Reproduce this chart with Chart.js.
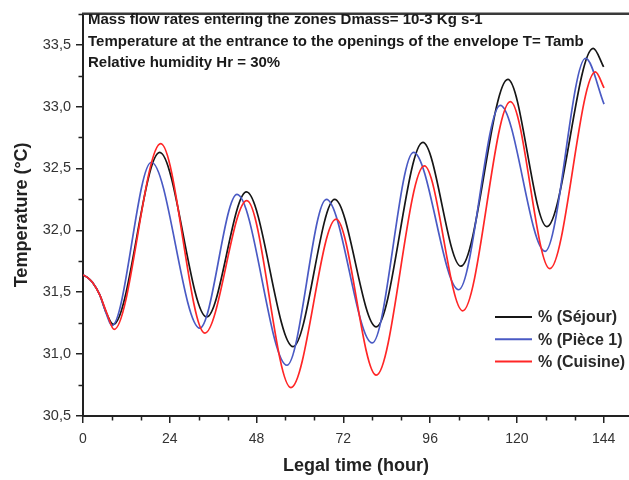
<!DOCTYPE html>
<html><head><meta charset="utf-8">
<script src="https://cdn.jsdelivr.net/npm/chart.js@4/dist/chart.umd.min.js"></script>
<style>html,body{margin:0;padding:0;background:#fff;} canvas{display:block;}</style>
</head><body>
<canvas id="c" width="629" height="480"></canvas>
<script>
// ---- Data ----
const seriesNames = ['% (Séjour)', '% (Pièce 1)', '% (Cuisine)'];

const sejourHours = [0, 1.2, 2.6, 4.6, 6.5, 8.4, 21.2, 34.2, 45.2, 58.1, 69.6, 81.1, 94.0, 104.5, 117.5, 128.3, 141.1, 144.0];
const sejourTemps = [31.64, 31.62, 31.58, 31.48, 31.33, 31.24, 32.63, 31.30, 32.31, 31.06, 32.25, 31.22, 32.71, 31.71, 33.22, 32.03, 33.47, 33.32];

const pieceHours = [0, 1.2, 2.6, 4.6, 6.4, 8.0, 18.9, 32.3, 42.6, 56.4, 67.3, 80.0, 91.4, 103.9, 115.4, 127.8, 139.0, 144.1];
const pieceTemps = [31.64, 31.62, 31.58, 31.48, 31.33, 31.23, 32.55, 31.21, 32.29, 30.91, 32.25, 31.09, 32.63, 31.52, 33.01, 31.83, 33.39, 33.02];

const cuisineHours = [0, 1.2, 2.6, 4.6, 6.6, 8.6, 21.5, 33.7, 45.3, 57.5, 70.0, 81.1, 94.4, 105.0, 118.2, 129.1, 141.7, 144.1];
const cuisineTemps = [31.64, 31.62, 31.58, 31.48, 31.33, 31.20, 32.70, 31.17, 32.24, 30.73, 32.09, 30.83, 32.52, 31.35, 33.04, 31.69, 33.28, 33.15];

const xMajorTicks = [0, 24, 48, 72, 96, 120, 144];
const xMinorTicks = [8, 16, 32, 40, 56, 64, 80, 88, 104, 112, 128, 136];
const yMajorTicks = [30.5, 31.0, 31.5, 32.0, 32.5, 33.0, 33.5];
const yMinorTicks = [30.75, 31.25, 31.75, 32.25, 32.75, 33.25, 33.75];

const noteLines = [
  'Mass flow rates entering the zones Dmass= 10-3 Kg s-1',
  'Temperature at the entrance to the openings of the envelope T= Tamb',
  'Relative humidity Hr = 30%'
];
const xTitle = 'Legal time (hour)';
const yTitle = 'Temperature (°C)';

// ---- Build chart ----
const toPts = (hs, ts) => hs.map((h, i) => ({x: h, y: ts[i]}));
const FONT = '"Liberation Sans", Arial, sans-serif';
const colors = ['#161616', '#4a5ac4', '#ff2626'];

const decor = {
  id: 'decor',
  afterDraw(chart) {
    const {ctx, chartArea: a, scales: {x, y}} = chart;
    ctx.save();
    // top frame line
    ctx.strokeStyle = '#3a3a3a';
    ctx.lineWidth = 2.5;
    ctx.beginPath();
    ctx.moveTo(a.left - 1, a.top);
    ctx.lineTo(chart.width, a.top);
    ctx.stroke();
    // minor ticks
    ctx.strokeStyle = '#222';
    ctx.lineWidth = 1.5;
    ctx.beginPath();
    xMinorTicks.forEach(v => {
      const px = Math.round(x.getPixelForValue(v)) + 0.5;
      ctx.moveTo(px, a.bottom); ctx.lineTo(px, a.bottom + 4.5);
    });
    yMinorTicks.forEach(v => {
      const py = Math.round(y.getPixelForValue(v)) + 0.5;
      ctx.moveTo(a.left, py); ctx.lineTo(a.left - 4.5, py);
    });
    ctx.stroke();
    // annotation text
    ctx.fillStyle = '#1a1a1a';
    ctx.font = 'bold 15px ' + FONT;
    ctx.textBaseline = 'middle';
    ctx.textAlign = 'left';
    noteLines.forEach((t, i) => ctx.fillText(t, a.left + 5, 20 + i * 21.5));
    // legend
    ctx.font = 'bold 16px ' + FONT;
    chart.data.datasets.forEach((ds, i) => {
      const ly = 317 + i * 22.3;
      ctx.strokeStyle = ds.borderColor;
      ctx.lineWidth = 2;
      ctx.beginPath();
      ctx.moveTo(495, ly); ctx.lineTo(532, ly);
      ctx.stroke();
      ctx.fillStyle = '#2a2a2a';
      ctx.fillText(ds.label, 538, ly + 1);
    });
    ctx.restore();
  }
};

new Chart(document.getElementById('c'), {
  type: 'line',
  data: {
    datasets: [
      {label: seriesNames[0], data: toPts(sejourHours, sejourTemps), borderColor: colors[0], order: 2},
      {label: seriesNames[1], data: toPts(pieceHours, pieceTemps), borderColor: colors[1], order: 1},
      {label: seriesNames[2], data: toPts(cuisineHours, cuisineTemps), borderColor: colors[2], order: 0}
    ].map(d => Object.assign(d, {borderWidth: 1.7, pointRadius: 0, fill: false, cubicInterpolationMode: 'monotone'}))
  },
  options: {
    responsive: false,
    devicePixelRatio: 1,
    animation: false,
    layout: {padding: {top: 8, right: 0, left: 0, bottom: 0}},
    plugins: {legend: {display: false}, tooltip: {enabled: false}},
    scales: {
      x: {
        type: 'linear', min: 0, max: 151,
        afterFit: s => { s.height = 64; },
        afterBuildTicks: s => { s.ticks = xMajorTicks.map(v => ({value: v})); },
        border: {color: '#222', width: 2},
        grid: {drawOnChartArea: false, drawTicks: true, tickLength: 7, color: '#222', lineWidth: 1.5},
        ticks: {autoSkip: false, maxRotation: 0, padding: 8, color: '#333', font: {family: FONT, size: 14}},
        title: {display: true, text: xTitle, color: '#222', font: {family: FONT, size: 18, weight: 'bold'}, padding: {top: 3, bottom: 3}}
      },
      y: {
        type: 'linear', min: 30.5, max: 33.75,
        afterFit: s => { s.width = 83; },
        afterBuildTicks: s => { s.ticks = yMajorTicks.map(v => ({value: v})); },
        border: {color: '#222', width: 2},
        grid: {drawOnChartArea: false, drawTicks: true, tickLength: 7, color: '#222', lineWidth: 1.5},
        ticks: {autoSkip: false, padding: 5, color: '#333', font: {family: FONT, size: 14.5},
          callback: v => Number(v).toFixed(1).replace('.', ',')},
        title: {display: true, text: yTitle, color: '#222', font: {family: FONT, size: 18, weight: 'bold'}, padding: {top: 11, bottom: 4}}
      }
    }
  },
  plugins: [decor]
});
</script>
</body></html>
